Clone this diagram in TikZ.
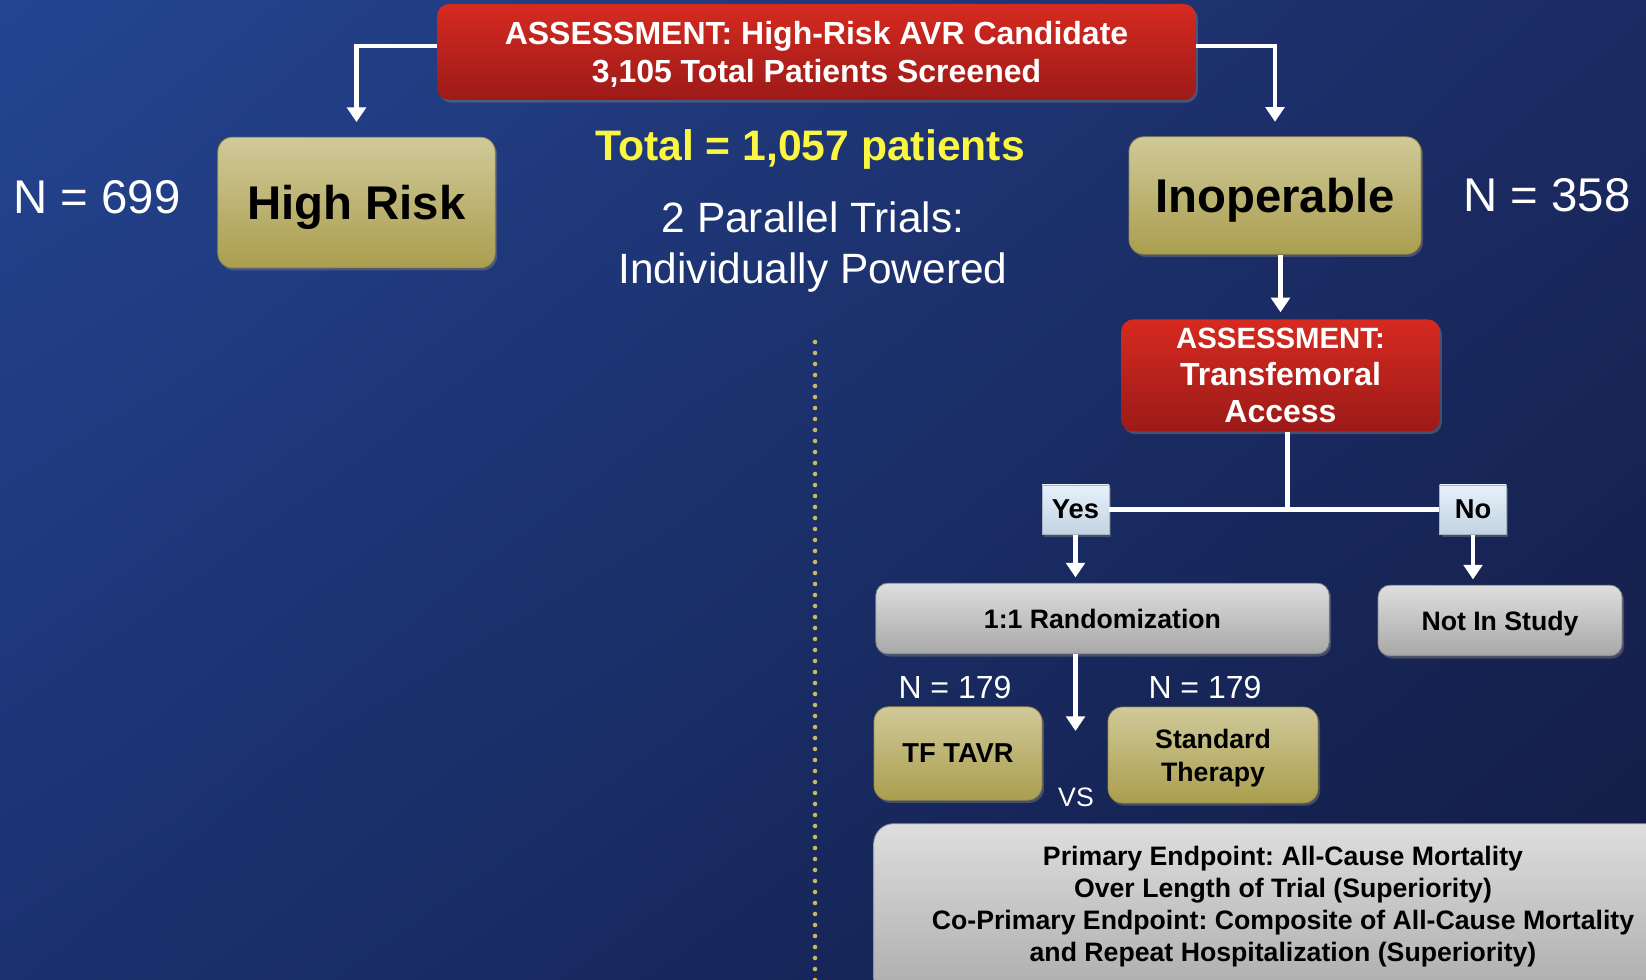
\documentclass[tikz,border=0pt]{standalone}
\usepackage{fontspec}
\setmainfont{Liberation Sans}
\usetikzlibrary{arrows.meta,shadows,shadings}
\frenchspacing

\definecolor{bgTL}{RGB}{36,69,145}
\definecolor{bgTR}{RGB}{27,43,99}
\definecolor{bgBL}{RGB}{27,49,112}
\definecolor{bgBR}{RGB}{18,27,66}
\definecolor{redTop}{RGB}{214,42,32}
\definecolor{redBot}{RGB}{156,26,24}
\definecolor{goldTop}{RGB}{208,201,153}
\definecolor{goldBot}{RGB}{170,158,78}
\definecolor{goldEdge}{RGB}{150,140,70}
\definecolor{greyTop}{RGB}{222,222,222}
\definecolor{greyBot}{RGB}{168,168,168}
\definecolor{paleTop}{RGB}{230,241,250}
\definecolor{paleBot}{RGB}{195,211,226}
\definecolor{totalYellow}{RGB}{250,246,66}
\definecolor{dotGold}{RGB}{205,185,90}

\tikzset{every picture/.style={line width=0.75pt}}
\tikzset{
  boxshadow/.style={drop shadow={shadow xshift=1.5pt,shadow yshift=-2pt,opacity=0.45}},
  redbox/.style={boxshadow,rounded corners=9pt,top color=redTop,bottom color=redBot,text=white,font=\bfseries,align=center,inner sep=0pt},
  goldbox/.style={boxshadow,rounded corners=11pt,top color=goldTop,bottom color=goldBot,draw=goldEdge,line width=0.6pt,text=black,font=\bfseries,align=center,inner sep=0pt,text depth=0pt},
  greybox/.style={boxshadow,rounded corners=9pt,top color=greyTop,bottom color=greyBot,draw=greyBot!80!black,line width=0.6pt,text=black,font=\bfseries,align=center,inner sep=0pt,text depth=0pt},
  palebox/.style={boxshadow,top color=paleTop,bottom color=paleBot,draw=paleBot!85!black,line width=0.5pt,text=black,font=\bfseries,inner sep=0pt,text depth=0pt},
  arr/.style={draw=white,line width=3.6pt,-{Triangle[width=14pt,length=11pt]}},
  wire/.style={draw=white,line width=3.6pt},
  label/.style={text=white,inner sep=0pt,align=center}
}

\begin{document}
\begin{tikzpicture}[x=0.75pt,y=0.75pt,yscale=-1,xscale=1]
		\useasboundingbox (0,0) rectangle (1646,980);
		
		%Shape: Background
		\shade[upper left=bgTL,upper right=bgTR,lower left=bgBL,lower right=bgBR] (0,0) rectangle (1646,980);
		
		%Straight Lines: dotted divider
		\draw [dotGold,line width=3.4pt,line cap=round,dash pattern=on 0pt off 8.25pt]  (815,342) -- (815,980) ;
		
		%Shape: top assessment
		\node [redbox,text depth=0pt,minimum width=569pt,minimum height=72pt,font=\fontsize{24}{28.5}\selectfont\bfseries] (top) at (816.5,52) {ASSESSMENT: High-Risk AVR Candidate\\3,105 Total Patients Screened};
		
		%Shape: the two arms
		\node [goldbox,minimum width=208pt,minimum height=98pt,font=\fontsize{35.5}{40}\selectfont\bfseries] (hr) at (356.5,202.5) {High Risk};
		\node [goldbox,minimum width=219pt,minimum height=88pt,font=\fontsize{35.5}{40}\selectfont\bfseries] (inop) at (1275,195.5) {Inoperable};
		
		% Text Node
		\node [label,font=\fontsize{35.5}{40}\selectfont] (nhr) at (97,197) {N = 699};
		% Text Node
		\node [label,font=\fontsize{35.5}{40}\selectfont] (ninop) at (1547,195) {N = 358};
		% Text Node
		\node [label,text=totalYellow,font=\fontsize{32}{36}\selectfont\bfseries] (total) at (810,149) {Total = 1,057 patients};
		% Text Node
		\node [label,font=\fontsize{31.8}{38}\selectfont] (trials) at (813,247) {2 Parallel Trials:\\Individually Powered};
		
		%Shape: transfemoral assessment
		\node [redbox,minimum width=239pt,minimum height=84pt,font=\fontsize{24}{28}\selectfont\bfseries] (tfa) at (1280.5,375.5) {{\fontsize{22}{28}\selectfont ASSESSMENT:}\\Transfemoral\\Access};
		
		%Shape: yes / no
		\node [palebox,minimum width=50pt,minimum height=37pt,font=\fontsize{20.5}{22}\selectfont\bfseries] (yes) at (1075.5,509.5) {Yes};
		\node [palebox,minimum width=50pt,minimum height=37pt,font=\fontsize{20.5}{22}\selectfont\bfseries] (no) at (1473,509.5) {No};
		
		%Shape: grey boxes
		\node [greybox,minimum width=340pt,minimum height=53pt,font=\fontsize{20}{23}\selectfont\bfseries] (rand) at (1102.5,618.5) {1:1 Randomization};
		\node [greybox,minimum width=183pt,minimum height=53pt,font=\fontsize{20}{23}\selectfont\bfseries] (nis) at (1500,620.5) {Not In Study};
		
		% Text Node
		\node [label,font=\fontsize{24}{27}\selectfont] (ntf) at (955,687) {N = 179};
		% Text Node
		\node [label,font=\fontsize{24}{27}\selectfont] (nstd) at (1205,687) {N = 179};
		
		%Shape: treatment arms
		\node [goldbox,minimum width=126pt,minimum height=70pt,font=\fontsize{20.5}{24.75}\selectfont\bfseries] (tf) at (958,753.5) {TF TAVR};
		\node [goldbox,minimum width=157.5pt,minimum height=72pt,font=\fontsize{20}{24.75}\selectfont\bfseries] (std) at (1213,755) {Standard\\Therapy};
		
		% Text Node
		\node [label,font=\fontsize{20}{24}\selectfont] (vs) at (1076,797) {VS};
		
		%Shape: endpoints
		\node [greybox,rounded corners=15pt,minimum width=620pt,minimum height=140pt] (ep) at (1287,917) {};
		% Text Node
		\node [inner sep=0pt,align=center,font=\fontsize{20}{24}\selectfont\bfseries] (eptext) at (1283,907) {Primary Endpoint: All-Cause Mortality\\Over Length of Trial (Superiority)\\Co-Primary Endpoint: Composite of All-Cause Mortality\\and Repeat Hospitalization (Superiority)};
		
		%Straight Lines: connectors
		\coordinate (stem) at ([xshift=5pt]tfa.south);
		\coordinate (fork) at (stem |- yes.east);
		\coordinate (vsarrow) at (1075.5,731);
		\draw [arr,shorten >=11pt]  (top.west |- 0,46) -| (hr.north) ;
		\draw [arr,shorten >=11pt]  (top.east |- 0,46) -| (inop.north) ;
		\draw [arr,shorten >=5pt]  (tfa.north |- inop.south) -- (tfa.north) ;
		\draw [wire]  (stem) -- (fork) ;
		\draw [wire]  (yes.east) -- (no.west) ;
		\draw [arr,shorten >=4pt]  (yes.south) -- (yes.south |- rand.north) ;
		\draw [arr,shorten >=4pt]  (no.south) -- (no.south |- nis.north) ;
		\draw [arr]  (rand.south -| yes.south) -- (vsarrow) ;
		
		\end{tikzpicture}
\end{document}
